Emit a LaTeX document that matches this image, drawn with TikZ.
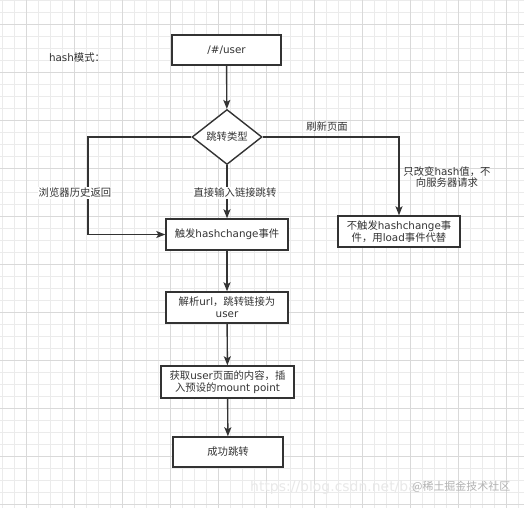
\documentclass[tikz,border=0pt]{standalone}
\usepackage{fontspec}
\setmainfont{Noto Sans CJK SC}
\newfontfamily\lat{DejaVu Sans}
\usetikzlibrary{shapes.geometric,arrows.meta}
\definecolor{ink}{HTML}{333333}
\definecolor{gridminor}{HTML}{EBEBEB}
\definecolor{gridmajor}{HTML}{D9D9D9}
\tikzset{
  box/.style={draw=ink, line width=1.4bp, fill=white, inner sep=0pt, align=center, text=ink,
    font=\fontsize{10.4}{11.8}\selectfont},
  decision/.style={draw=ink, line width=1.4bp, fill=white, diamond, aspect=1.27, inner sep=0pt,
    minimum width=70bp, minimum height=55bp, text=ink, font=\fontsize{10.4}{11.8}\selectfont},
  flow/.style={draw=ink, line width=1.4bp, -{Stealth[length=9bp,width=7bp,inset=2bp]}},
  lbl/.style={text=ink, inner sep=1pt, align=center, font=\fontsize{10.4}{11.8}\selectfont},
  lblw/.style={lbl, fill=white},
}
\begin{document}
\begin{tikzpicture}[x=1bp,y=-1bp]
\useasboundingbox (0,0) rectangle (524,508);
\fill[white] (0,0) rectangle (524,508);
% grid
\foreach \i in {0,...,43} {\draw[gridminor, line width=0.8bp] ({2.7+12*\i},0) -- ({2.7+12*\i},508);}
\foreach \i in {0,...,42} {\draw[gridminor, line width=0.8bp] (0,{12*\i}) -- (524,{12*\i});}
\foreach \i in {0,...,10} {\draw[gridmajor, line width=0.8bp] ({26.7+48*\i},0) -- ({26.7+48*\i},508);}
\foreach \i in {0,...,10} {\draw[gridmajor, line width=0.8bp] (0,{24+48*\i}) -- (524,{24+48*\i});}

\node[lbl] (title) at (77,58) {{\lat hash}模式：};

\node[box, minimum width=109bp, minimum height=30bp] (start) at (226.5,50) {{\lat /\#/user}};
\node[decision] (type) at (227,137) {跳转类型};
\node[box, minimum width=122bp, minimum height=31bp] (trig) at (227,234.5) {触发{\lat hashchange}事件};
\node[box, minimum width=122bp, minimum height=31bp] (noload) at (399,231.5) {不触发{\lat hashchange}事\\件，用{\lat load}事件代替};
\node[box, minimum width=122bp, minimum height=31bp] (parse) at (227,307.5) {解析{\lat url}，跳转链接为\\{\lat user}};
\node[box, minimum width=133bp, minimum height=32bp] (fetch) at (227.5,382) {获取{\lat user}页面的内容，插\\入预设的{\lat mount point}};
\node[box, minimum width=110bp, minimum height=30bp] (ok) at (228,452) {成功跳转};

\coordinate (lc) at (88,137);
\coordinate (ld) at (88,234.5);
\coordinate (rc) at (399,137);

\draw[flow] (start) -- (type);
\draw[flow] (type) -- (trig);
\draw[flow] (type.west) -- (lc) -- (ld) -- (trig.west);
\draw[flow] (type.east) -- (rc) -- (noload.north);
\draw[flow] (trig) -- (parse);
\draw[flow] (parse) -- (fetch);
\draw[flow] (fetch) -- (ok);

\node[lblw] (lback) at (75,193) {浏览器历史返回};
\node[lblw] (ldirect) at (235,193) {直接输入链接跳转};
\node[lbl] (lrefresh) at (327,127) {刷新页面};
\node[lbl] (lonly) at (447,177) {只改变{\lat hash}值，不\\向服务器请求};

% watermark
\node[text=black!9, inner sep=0pt, anchor=west, font=\fontsize{14}{16}\selectfont\lat] (wm1) at (250,488) {https://blog.csdn.net/ba};
\node[text=black!30, inner sep=0pt, anchor=west, font=\fontsize{11}{13}\selectfont] (wm2) at (412,487) {@稀土掘金技术社区};
\end{tikzpicture}
\end{document}
